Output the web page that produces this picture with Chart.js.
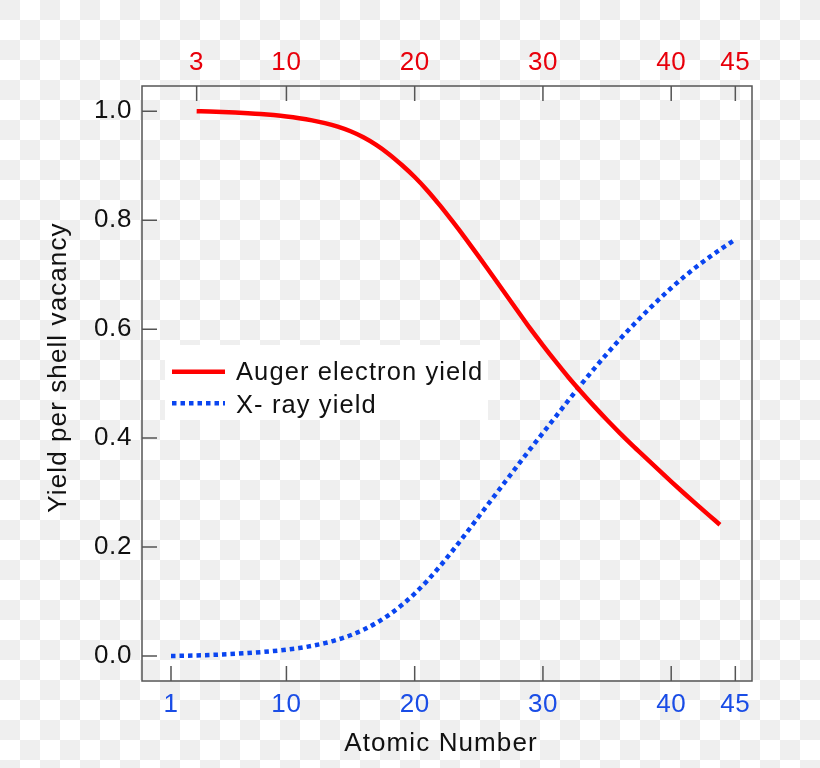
<!DOCTYPE html>
<html><head><meta charset="utf-8">
<script src="https://cdn.jsdelivr.net/npm/chart.js@4"></script>
<style>
html,body{margin:0;padding:0;}
body{width:820px;height:768px;overflow:hidden;background-color:#fff;
background-image:repeating-conic-gradient(#ffffff 0 25%, #efefef 0 50%);background-size:40px 40px;background-position:0 0;}
#wrap{position:absolute;left:0;top:0;width:820px;height:768px;}
</style></head><body>
<div id="wrap"><canvas id="c" width="820" height="768"></canvas></div>
<script>
// ---- data ----
const augerZ = [3,4,5,6,7,8,9,10,11,12,13,14,15,16,17,18,19,20,21,22,23,24,25,26,27,28,29,30,31,32,33,34,35,36,37,38,39,40,41,42,43,43.8];
const augerYield = [1.000,0.9995,0.9987,0.9977,0.9965,0.9950,0.9930,0.9905,0.9873,0.9833,0.9783,0.9718,0.9633,0.9523,0.9383,0.9213,0.9013,0.8793,0.8543,0.8263,0.7963,0.7653,0.7333,0.7003,0.6673,0.6343,0.6013,0.5703,0.5403,0.5113,0.4843,0.4583,0.4333,0.4093,0.3863,0.3643,0.3423,0.3203,0.2988,0.2778,0.2573,0.2409];
const xrayZ = [1,2,3,4,5,6,7,8,9,10,11,12,13,14,15,16,17,18,19,20,21,22,23,24,25,26,27,28,29,30,31,32,33,34,35,36,37,38,39,40,41,42,43,44,45];
const xrayYield = [0.000,0.0004,0.001,0.0018,0.0028,0.004,0.0054,0.0071,0.0091,0.0116,0.0146,0.0186,0.0236,0.0301,0.0381,0.0481,0.0606,0.0756,0.0936,0.1146,0.1386,0.1656,0.1946,0.2251,0.2561,0.2871,0.3181,0.3491,0.3796,0.4096,0.4396,0.4696,0.4991,0.5276,0.5551,0.5816,0.6066,0.6306,0.6536,0.6756,0.6961,0.7151,0.7326,0.7491,0.7646];
const bottomTicks = [1,10,20,30,40,45];
const topTicks = [3,10,20,30,40,45];
const yTicks = [0,0.2,0.4,0.6,0.8,1.0];
const seriesNames = ['Auger electron yield','X- ray yield'];
const xTitle = 'Atomic Number';
const yTitle = 'Yield per shell vacancy';

const FONT = "'Liberation Sans', Arial, Helvetica, sans-serif";
const RED = '#ff0000', BLUE = '#0a45f0';
const RED_TXT = '#e8000b', BLUE_TXT = '#1a4de6';
const FRAME = '#555555';
const X_MIN = -1.261, X_MAX = 46.30, Y_MIN = -0.0459, Y_MAX = 1.0464;

const toPts = (xs, ys) => xs.map((x, i) => ({x: x, y: ys[i]}));

const decor = {
  id: 'decor',
  beforeDraw(chart) { chart.ctx.letterSpacing = '0.6px'; },
  afterDatasetsDraw(chart) {
    const {ctx, chartArea: a, scales} = chart;
    ctx.save();
    // frame
    ctx.strokeStyle = FRAME; ctx.lineWidth = 1.5;
    ctx.strokeRect(a.left, a.top, a.right - a.left, a.bottom - a.top);
    // inward ticks
    ctx.beginPath();
    const L = 15;
    scales.x.ticks.forEach(t => { const p = scales.x.getPixelForValue(t.value); ctx.moveTo(p, a.bottom); ctx.lineTo(p, a.bottom - L); });
    scales.x2.ticks.forEach(t => { const p = scales.x2.getPixelForValue(t.value); ctx.moveTo(p, a.top); ctx.lineTo(p, a.top + L); });
    scales.y.ticks.forEach(t => { const p = scales.y.getPixelForValue(t.value); ctx.moveTo(a.left, p); ctx.lineTo(a.left + L, p); });
    ctx.stroke();

    // legend
    ctx.fillStyle = '#ffffff';
    ctx.fillRect(165, 345, 323, 75);
    ctx.lineCap = 'butt';
    ctx.lineWidth = 4.5;
    ctx.strokeStyle = RED; ctx.setLineDash([]);
    ctx.beginPath(); ctx.moveTo(172, 371.7); ctx.lineTo(225, 371.7); ctx.stroke();
    ctx.strokeStyle = BLUE; ctx.setLineDash([4.5, 4]);
    ctx.beginPath(); ctx.moveTo(172, 403.3); ctx.lineTo(225, 403.3); ctx.stroke();
    ctx.setLineDash([]);
    ctx.fillStyle = '#111111';
    ctx.letterSpacing = '1.1px';
    ctx.font = '25.5px ' + FONT;
    ctx.textAlign = 'left'; ctx.textBaseline = 'alphabetic';
    ctx.fillText(seriesNames[0], 236, 379.5);
    ctx.fillText(seriesNames[1], 236, 412.8);

    // axis titles
    ctx.font = '26px ' + FONT;
    ctx.textAlign = 'center'; ctx.textBaseline = 'middle';
    ctx.fillText(xTitle, 441, 744);
    ctx.translate(65.7, 367.5);
    ctx.rotate(-Math.PI / 2);
    ctx.textBaseline = 'alphabetic';
    ctx.fillText(yTitle, 0, 0);
    ctx.restore();
  }
};

new Chart(document.getElementById('c'), {
  type: 'line',
  data: {
    datasets: [
      {label: seriesNames[0], data: toPts(augerZ, augerYield), borderColor: RED, borderWidth: 4.5,
       pointRadius: 0, cubicInterpolationMode: 'monotone', fill: false, borderCapStyle: 'butt', xAxisID: 'x', yAxisID: 'y'},
      {label: seriesNames[1], data: toPts(xrayZ, xrayYield), borderColor: BLUE, borderWidth: 4.5, borderDash: [4.5, 4],
       pointRadius: 0, cubicInterpolationMode: 'monotone', fill: false, borderCapStyle: 'butt', xAxisID: 'x', yAxisID: 'y'}
    ]
  },
  options: {
    responsive: false, maintainAspectRatio: false, animation: false, devicePixelRatio: 1,
    layout: {padding: {left: 0, right: 68, top: 0, bottom: 0}},
    plugins: {legend: {display: false}, tooltip: {enabled: false}},
    scales: {
      x: {type: 'linear', position: 'bottom', min: X_MIN, max: X_MAX,
        afterBuildTicks: s => { s.ticks = bottomTicks.map(v => ({value: v})); },
        afterFit: s => { s.height = 87; },
        grid: {display: false, drawTicks: false}, border: {display: false},
        ticks: {color: BLUE_TXT, font: {size: 26, family: FONT}, padding: 8, maxRotation: 0, autoSkip: false, callback: v => String(v)}},
      x2: {type: 'linear', position: 'top', min: X_MIN, max: X_MAX,
        afterBuildTicks: s => { s.ticks = topTicks.map(v => ({value: v})); },
        afterFit: s => { s.height = 86; },
        grid: {display: false, drawTicks: false}, border: {display: false},
        ticks: {color: RED_TXT, font: {size: 26, family: FONT}, padding: 8, maxRotation: 0, autoSkip: false, callback: v => String(v)}},
      y: {type: 'linear', position: 'left', min: Y_MIN, max: Y_MAX,
        afterBuildTicks: s => { s.ticks = yTicks.map(v => ({value: v})); },
        afterFit: s => { s.width = 142; },
        grid: {display: false, drawTicks: false}, border: {display: false},
        ticks: {color: '#111111', font: {size: 26, family: FONT}, padding: 10, autoSkip: false, callback: v => Number(v).toFixed(1)}}
    }
  },
  plugins: [decor]
});
</script>
</body></html>
